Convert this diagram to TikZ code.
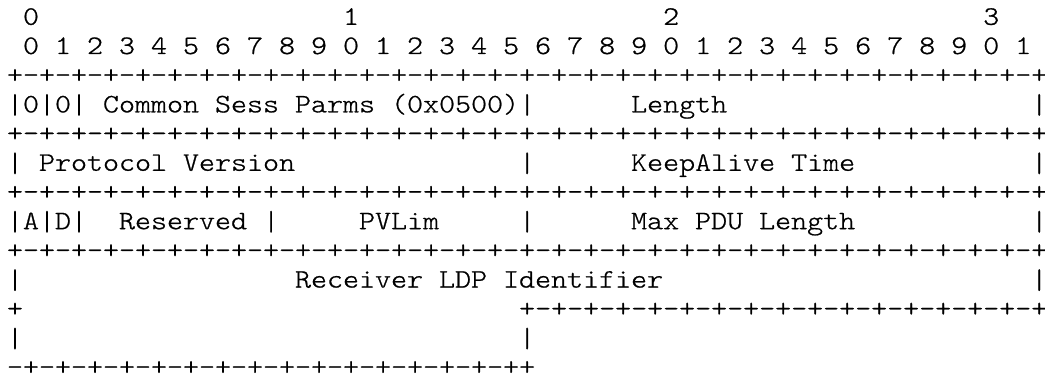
\documentclass[tikz,border=0pt]{standalone}
\usepackage{fontspec}
\usepackage{graphicx}
\newfontfamily\asciimono{lmmonolt10-regular.otf}[FakeStretch=1.143,FakeBold=0.8]
\newdimen\asciicell
\asciicell=16.004pt
\newcommand\asciigap[1]{\kern#1\asciicell}
\newcommand\asciifont{\asciimono\fontsize{26.67pt}{29pt}\selectfont\fontdimen2\font=\asciicell\fontdimen3\font=0pt\fontdimen4\font=0pt\relax}
\newsavebox\asciibarbox
\newcommand\vb{\sbox\asciibarbox{|}\makebox[\asciicell]{\raisebox{-3.4pt}{\resizebox*{\wd\asciibarbox}{21.7pt}{\raisebox{\dp\asciibarbox}{\usebox\asciibarbox}}}}}
\tikzset{
  asciirow/.style={anchor=base west, inner sep=0pt, outer sep=0pt, text=black,
    font=\asciifont}
}
\begin{document}
\begin{tikzpicture}[x=1pt,y=1pt]
\fill[white] (0,0) rectangle (1045,381);
\useasboundingbox (0,0) rectangle (1045,381);
\def\rx{7}
\def\ry{356.2}
\def\rp{29.2}
\node[asciirow] (row0) at ({\rx},{\ry-0*\rp}) {\asciigap{1}0\asciigap{19}1\asciigap{19}2\asciigap{19}3};
\node[asciirow] (row1) at ({\rx},{\ry-1*\rp}) {~0~1~2~3~4~5~6~7~8~9~0~1~2~3~4~5~6~7~8~9~0~1~2~3~4~5~6~7~8~9~0~1};
\node[asciirow] (row2) at ({\rx},{\ry-2*\rp}) {+-+-+-+-+-+-+-+-+-+-+-+-+-+-+-+-+-+-+-+-+-+-+-+-+-+-+-+-+-+-+-+-+};
\node[asciirow] (row3) at ({\rx},{\ry-3*\rp}) {\vb0\vb0\vb~Common~Sess~Parms~(0x0500)\vb\asciigap{6}Length\asciigap{19}\vb};
\node[asciirow] (row4) at ({\rx},{\ry-4*\rp}) {+-+-+-+-+-+-+-+-+-+-+-+-+-+-+-+-+-+-+-+-+-+-+-+-+-+-+-+-+-+-+-+-+};
\node[asciirow] (row5) at ({\rx},{\ry-5*\rp}) {\vb~Protocol~Version\asciigap{14}\vb\asciigap{6}KeepAlive~Time\asciigap{11}\vb};
\node[asciirow] (row6) at ({\rx},{\ry-6*\rp}) {+-+-+-+-+-+-+-+-+-+-+-+-+-+-+-+-+-+-+-+-+-+-+-+-+-+-+-+-+-+-+-+-+};
\node[asciirow] (row7) at ({\rx},{\ry-7*\rp}) {\vb A\vb D\vb\asciigap{2}Reserved~\vb\asciigap{5}PVLim\asciigap{5}\vb\asciigap{6}Max~PDU~Length\asciigap{11}\vb};
\node[asciirow] (row8) at ({\rx},{\ry-8*\rp}) {+-+-+-+-+-+-+-+-+-+-+-+-+-+-+-+-+-+-+-+-+-+-+-+-+-+-+-+-+-+-+-+-+};
\node[asciirow] (row9) at ({\rx},{\ry-9*\rp}) {\vb\asciigap{17}Receiver~LDP~Identifier\asciigap{23}\vb};
\node[asciirow] (row10) at ({\rx},{\ry-10*\rp}) {+\asciigap{31}+-+-+-+-+-+-+-+-+-+-+-+-+-+-+-+-+};
\node[asciirow] (row11) at ({\rx},{\ry-11*\rp}) {\vb\asciigap{31}\vb};
\node[asciirow] (row12) at ({\rx},{\ry-12*\rp}) {-+-+-+-+-+-+-+-+-+-+-+-+-+-+-+-++};
\end{tikzpicture}
\end{document}
